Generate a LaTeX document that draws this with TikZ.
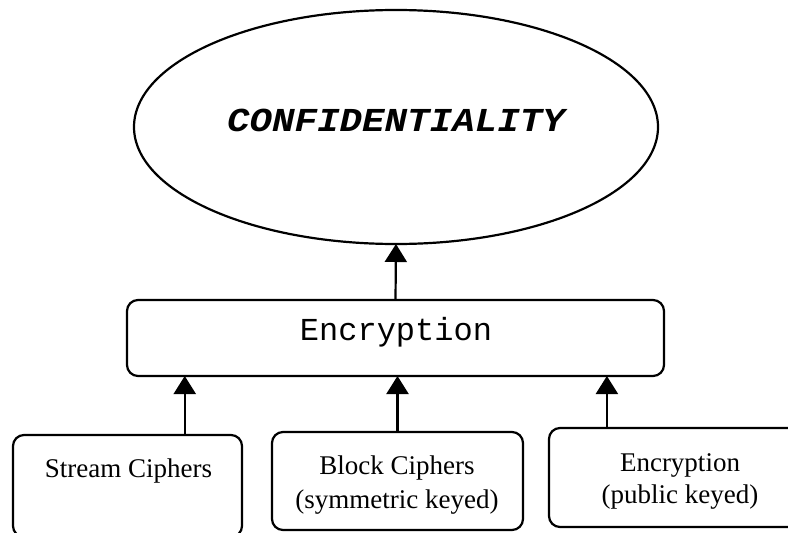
\documentclass[tikz,border=0pt]{standalone}
\usepackage{fontspec}
\setmainfont{Liberation Serif}
\newfontfamily\encfont{Liberation Mono}
\newfontfamily\conffont[FakeStretch=1.12]{Liberation Mono}
\usetikzlibrary{shapes.geometric,arrows.meta,calc}
\begin{document}
\begin{tikzpicture}[x=1pt,y=-1pt,
  every node/.style={inner sep=0pt,outer sep=0pt},
  boxstyle/.style={draw,line width=2.2pt,rounded corners=11pt,rectangle},
  arr/.style={line width=2.2pt,-{Triangle[width=22pt,length=18pt]}},
  serif/.style={font=\fontsize{27}{33}\selectfont,anchor=base}
]
\useasboundingbox (0,0) rectangle (788,533);
\begin{scope}
\clip (0,0) rectangle (788,533);
\node[draw,ellipse,line width=2.2pt,minimum width=524pt,minimum height=234pt] (c) at (396,127) {};
\node[anchor=base,font=\conffont\bfseries\itshape\fontsize{33.5}{36}\selectfont] (ct) at (396,131) {CONFIDENTIALITY};
\node[boxstyle,minimum width=537pt,minimum height=76pt] (e) at (395.5,338) {};
\node[anchor=base,font=\encfont\fontsize{32}{36}\selectfont] (et) at (396,340) {Encryption};
\node[boxstyle,minimum width=229pt,minimum height=102pt] (s) at (127.5,486) {};
\node[boxstyle,minimum width=251pt,minimum height=98pt] (b) at (397.5,481) {};
\node[boxstyle,minimum width=262pt,minimum height=99pt] (p) at (680,477.5) {};
\node[serif] (st) at (128.5,477) {Stream Ciphers};
\node[serif] (bt1) at (397,474) {Block Ciphers};
\node[serif] (bt2) at (397,508) {(symmetric keyed)};
\node[serif] (pt1) at (680,471) {Encryption};
\node[serif] (pt2) at (680,503) {(public keyed)};
\coordinate (sa) at ($(s.north west)!0.75!(s.north east)$);
\coordinate (pa) at ($(p.north west)!0.221!(p.north east)$);
\draw[arr] (e.north) -- (c.south);
\draw[arr] (sa) -- (sa |- e.south);
\draw[arr] (b.north) -- (b.north |- e.south);
\draw[arr] (pa) -- (pa |- e.south);
\end{scope}
\end{tikzpicture}
\end{document}
